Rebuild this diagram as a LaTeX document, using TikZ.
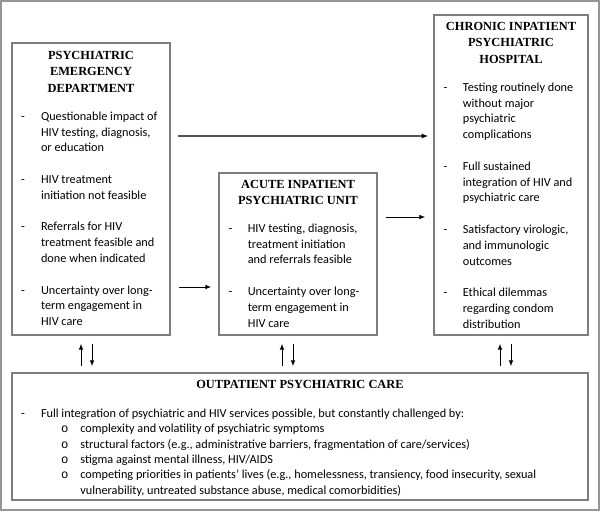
\documentclass[tikz,border=0pt]{standalone}
\usepackage{fontspec}
\setmainfont{Liberation Serif}
\newfontfamily\bodyfont{Carlito}
\newfontfamily\ofont{Liberation Mono}
\usepackage{tikz}
\usetikzlibrary{positioning,calc,fit,arrows.meta}
\definecolor{boxgray}{RGB}{125,125,125}
\definecolor{framegray}{RGB}{150,150,150}
\definecolor{linegray}{RGB}{85,85,85}
\tikzset{box/.style={draw=boxgray,line width=1.1pt,inner sep=0pt},
  head/.style={font=\rmfamily\fontsize{9.3}{12.4}\selectfont\bfseries,inner sep=0pt,anchor=base},
  body/.style={font=\bodyfont\fontsize{9.2}{11.85}\selectfont,inner sep=0pt,anchor=base west},
  arr/.style={-{Latex[length=4.5pt,width=3.6pt]},line width=0.75pt},
  longarr/.style={-{Latex[length=5pt,width=4pt,color=black]},draw=linegray,line width=1.5pt},
}
\newcommand{\gap}{11.85pt}

\begin{document}
\begin{tikzpicture}[x=0.75pt,y=-0.75pt]
	\useasboundingbox (0,0) rectangle (600,511);
	\draw[framegray,line width=1.5pt] (1,1) rectangle (599,510);
	
	% the four settings
	\node[box,fit={(12,43) (170,335)}] (ed) {};
	\node[box,fit={(219,173) (377,335)}] (acute) {};
	\node[box,fit={(434,15) (588,335)}] (chronic) {};
	\node[box,fit={(12,373) (588,500)}] (out) {};
	
	\node[head] (edtitle) at ($(ed.north)+(0,17)$)
		{\begin{tabular}[t]{@{}c@{}}PSYCHIATRIC\\EMERGENCY\\DEPARTMENT\end{tabular}};
	\node[body] (edtext) at ($(ed.north west)+(9.5,78)$)
		{\begin{tabular}[t]{@{}p{15pt}@{}l@{}}
		- & Questionable impact of\\
		  & HIV testing, diagnosis,\\
		  & or education\\[\gap]
		- & HIV treatment\\
		  & initiation not feasible\\[\gap]
		- & Referrals for HIV\\
		  & treatment feasible and\\
		  & done when indicated\\[\gap]
		- & Uncertainty over long-\\
		  & term engagement in\\
		  & HIV care
		\end{tabular}};
	
	\node[head] (acutetitle) at ($(acute.north)+(0,16)$)
		{\begin{tabular}[t]{@{}c@{}}ACUTE INPATIENT\\PSYCHIATRIC UNIT\end{tabular}};
	\node[body] (acutetext) at ($(acute.north west)+(10,60)$)
		{\begin{tabular}[t]{@{}p{14.5pt}@{}l@{}}
		- & HIV testing, diagnosis,\\
		  & treatment initiation\\
		  & and referrals feasible\\[\gap]
		- & Uncertainty over long-\\
		  & term engagement in\\
		  & HIV care
		\end{tabular}};
	
	\node[head] (chronictitle) at ($(chronic.north)+(0,16)$)
		{\begin{tabular}[t]{@{}c@{}}CHRONIC INPATIENT\\PSYCHIATRIC\\HOSPITAL\end{tabular}};
	\node[body] (chronictext) at ($(chronic.north west)+(10,77)$)
		{\begin{tabular}[t]{@{}p{14.5pt}@{}l@{}}
		- & Testing routinely done\\
		  & without major\\
		  & psychiatric\\
		  & complications\\[\gap]
		- & Full sustained\\
		  & integration of HIV and\\
		  & psychiatric care\\[\gap]
		- & Satisfactory virologic,\\
		  & and immunologic\\
		  & outcomes\\[\gap]
		- & Ethical dilemmas\\
		  & regarding condom\\
		  & distribution
		\end{tabular}};
	
	\node[head] (outtitle) at ($(out.north)+(0,16)$) {OUTPATIENT PSYCHIATRIC CARE};
	\node[body,font=\bodyfont\fontsize{9.2}{11.55}\selectfont] (outtext) at ($(out.north west)+(9.5,45)$)
		{\begin{tabular}[t]{@{}p{15pt}@{}p{15pt}@{}p{14.5pt}@{}l@{}}
		- & \multicolumn{3}{@{}l@{}}{Full integration of psychiatric and HIV services possible, but constantly challenged by:}\\
		  & & {\ofont o} & complexity and volatility of psychiatric symptoms\\
		  & & {\ofont o} & structural factors (e.g., administrative barriers, fragmentation of care/services)\\
		  & & {\ofont o} & stigma against mental illness, HIV/AIDS\\
		  & & {\ofont o} & competing priorities in patients’ lives (e.g., homelessness, transiency, food insecurity, sexual\\
		  & & & vulnerability, untreated substance abuse, medical comorbidities)
		\end{tabular}};
	
	% moves between settings
	\draw[longarr] ($(ed.east |- 0,136)+(7,0)$) -- ($(chronic.west |- 0,136)+(-5,0)$);
	\draw[arr] ($(ed.east |- 0,287)+(8,0)$) -- ($(acute.west |- 0,287)+(-7,0)$);
	\draw[arr] ($(acute.east |- 0,217)+(8,0)$) -- ($(chronic.west |- 0,217)+(-8,0)$);
	
	\draw[arr] ($(out.north -| 81,0)+(0,-6)$) -- ($(ed.south -| 81,0)+(0,8)$);
	\draw[arr] ($(ed.south -| 92,0)+(0,8)$) -- ($(out.north -| 92,0)+(0,-6)$);
	\draw[arr] ($(out.north -| 282,0)+(0,-6)$) -- ($(acute.south -| 282,0)+(0,8)$);
	\draw[arr] ($(acute.south -| 293,0)+(0,8)$) -- ($(out.north -| 293,0)+(0,-6)$);
	\draw[arr] ($(out.north -| 500,0)+(0,-6)$) -- ($(chronic.south -| 500,0)+(0,8)$);
	\draw[arr] ($(chronic.south -| 511,0)+(0,8)$) -- ($(out.north -| 511,0)+(0,-6)$);
\end{tikzpicture}
\end{document}
